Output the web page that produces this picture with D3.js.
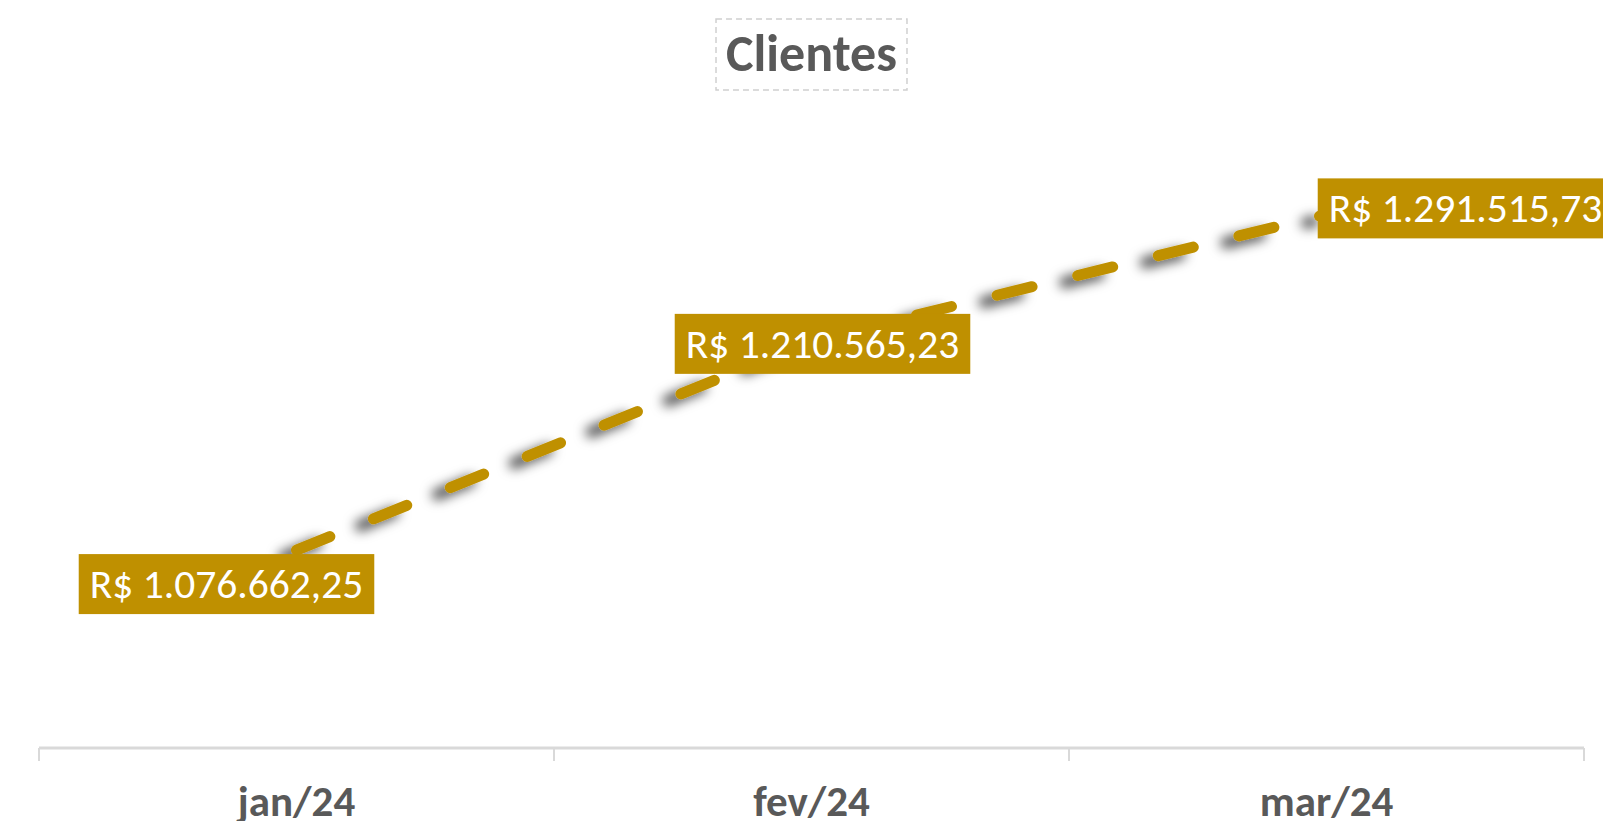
<!DOCTYPE html>
<html lang="pt-BR">
<head>
<meta charset="utf-8">
<title>Clientes</title>
<script src="https://cdn.jsdelivr.net/npm/d3@7"></script>
<style>
  html, body { margin: 0; padding: 0; background: #ffffff; }
  svg { display: block; }
  text { font-family: Carlito, Calibri, Lato, "Noto Sans", sans-serif; }
</style>
</head>
<body>
<svg id="chart" width="1603" height="821"></svg>
<script>
// Monthly totals for "Clientes"
const title = "Clientes";
const categories = ["jan/24", "fev/24", "mar/24"];
const values = [1076662.25, 1210565.23, 1291515.73];
const yDomain = [950000, 1350000];

// Where each data label box sits, relative to its point (box centre)
const labelOffsets = [[-70, 34], [11, 3], [139, -6]];

const gold = "#BF9000";
const grey = "#595959";
const axisGrey = "#D9D9D9";

const brl = d3.formatLocale({
  decimal: ",", thousands: ".", grouping: [3], currency: ["R$ ", ""]
}).format("$,.2f");

const svg = d3.select("#chart");

const plot = { left: 39, right: 1584, top: 123, bottom: 748 };

const x = d3.scaleBand().domain(categories).range([plot.left, plot.right]);
const y = d3.scaleLinear().domain(yDomain).range([plot.bottom, plot.top]);

// Soft shadow under the line
const defs = svg.append("defs");
defs.append("filter")
  .attr("id", "lineShadow")
  .attr("x", "-10%").attr("y", "-20%")
  .attr("width", "120%").attr("height", "140%")
  .append("feDropShadow")
  .attr("dx", -13).attr("dy", 7)
  .attr("stdDeviation", 6)
  .attr("flood-color", "#000")
  .attr("flood-opacity", 0.7);

// Title with dashed frame
const titleG = svg.append("g");
const titleText = titleG.append("text")
  .attr("x", (plot.left + plot.right) / 2)
  .attr("y", 71)
  .attr("text-anchor", "middle")
  .attr("font-size", 52)
  .attr("font-weight", 700)
  .attr("fill", grey)
  .text(title);
const tb = titleText.node().getBBox();
titleG.insert("rect", "text")
  .attr("x", tb.x - 10).attr("y", 19)
  .attr("width", tb.width + 20).attr("height", 71)
  .attr("fill", "none")
  .attr("stroke", "#D0D0D0")
  .attr("stroke-width", 1.5)
  .attr("stroke-dasharray", "6,4");

// Category axis
const axisG = svg.append("g")
  .attr("transform", `translate(0,${plot.bottom})`)
  .call(d3.axisBottom(x).tickSize(0).tickPadding(0));
axisG.select(".domain")
  .attr("stroke", axisGrey)
  .attr("stroke-width", 3)
  .attr("d", `M${plot.left},0H${plot.right}`);
axisG.selectAll(".tick text")
  .attr("y", 68)
  .attr("dy", null)
  .attr("font-size", 43)
  .attr("font-weight", 700)
  .attr("fill", grey)
  .style("font-family", "Carlito, Calibri, Lato, sans-serif");

// Tick marks between categories
const edges = categories.map(c => x(c)).concat([x(categories[categories.length - 1]) + x.bandwidth()]);
axisG.selectAll("line.edge")
  .data(edges)
  .join("line")
  .attr("class", "edge")
  .attr("x1", d => d).attr("x2", d => d)
  .attr("y1", 0).attr("y2", 13)
  .attr("stroke", axisGrey)
  .attr("stroke-width", 2);

// Dashed line
const pts = categories.map((c, i) => [x(c) + x.bandwidth() / 2, y(values[i])]);
svg.append("path")
  .datum(pts)
  .attr("d", d3.line())
  .attr("fill", "none")
  .attr("stroke", gold)
  .attr("stroke-width", 11)
  .attr("stroke-linecap", "round")
  .attr("stroke-linejoin", "round")
  .attr("stroke-dasharray", "36,47")
  .attr("filter", "url(#lineShadow)");

// Data labels
const labels = svg.append("g").selectAll("g")
  .data(values)
  .join("g")
  .attr("transform", (d, i) => `translate(${pts[i][0] + labelOffsets[i][0]},${pts[i][1] + labelOffsets[i][1]})`);
labels.append("text")
  .attr("text-anchor", "middle")
  .attr("y", 14)
  .attr("font-size", 41.5)
  .attr("fill", "#ffffff")
  .text(d => brl(d));
labels.each(function() {
  const g = d3.select(this);
  const b = g.select("text").node().getBBox();
  g.insert("rect", "text")
    .attr("x", -b.width / 2 - 11)
    .attr("y", -30)
    .attr("width", b.width + 22)
    .attr("height", 60)
    .attr("fill", gold);
});
</script>
</body>
</html>
